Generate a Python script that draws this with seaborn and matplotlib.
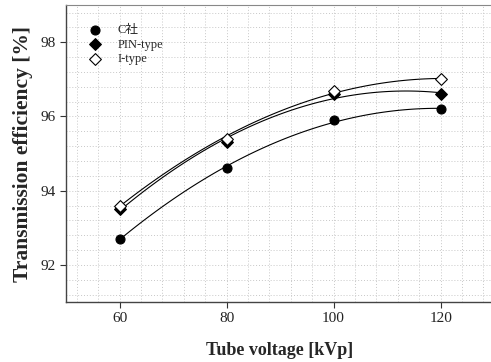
import numpy as np
import pandas as pd
import seaborn as sns
import matplotlib.pyplot as plt
from matplotlib.ticker import MultipleLocator

voltage = [60, 80, 100, 120]
c_sha = [92.7, 94.6, 95.9, 96.2]
pin_type = [93.5, 95.3, 96.6, 96.6]
i_type = [93.6, 95.4, 96.7, 97.0]
series_names = ["C社", "PIN-type", "I-type"]

df = pd.DataFrame({
    "voltage": voltage * 3,
    "eff": c_sha + pin_type + i_type,
    "type": [n for n in series_names for _ in voltage],
})

sns.set_style("white")
plt.rcParams["font.family"] = ["Liberation Serif", "Noto Sans CJK JP"]

fig = plt.figure(figsize=(4.91, 3.62), dpi=100)
ax = fig.add_axes([0.1344, 0.1657, 0.872, 0.820])

# quadratic fit lines
for name in series_names:
    sub = df[df["type"] == name]
    sns.regplot(data=sub, x="voltage", y="eff", order=2, ci=None, scatter=False,
                ax=ax, line_kws={"color": "black", "lw": 0.8})

markers = {"C社": "o", "PIN-type": "D", "I-type": "D"}
faces = {"C社": "black", "PIN-type": "black", "I-type": "white"}
sizes = {"C社": 42, "PIN-type": 36, "I-type": 36}
for name in series_names:
    sub = df[df["type"] == name]
    ax.scatter(sub["voltage"], sub["eff"], marker=markers[name], s=sizes[name],
               facecolor=faces[name], edgecolor="black", linewidth=0.8,
               zorder=5, label=name)

ax.set_xlim(50, 130)
ax.set_ylim(91, 99)
ax.xaxis.set_major_locator(MultipleLocator(20))
ax.yaxis.set_major_locator(MultipleLocator(2))
ax.xaxis.set_minor_locator(MultipleLocator(4))
ax.yaxis.set_minor_locator(MultipleLocator(0.4))
ax.grid(which="both", color="#c8c8c8", linestyle=(0, (1, 2)), linewidth=0.7)
ax.set_axisbelow(True)

for s in ["left", "bottom"]:
    ax.spines[s].set_color("#444444")
    ax.spines[s].set_linewidth(1.0)
ax.spines["top"].set_color("#888888")
ax.spines["right"].set_visible(False)
ax.tick_params(which="major", direction="out", length=4, width=0.8,
               colors="#333333", labelsize=11, labelcolor="#222222",
               left=True, bottom=True)
ax.tick_params(which="minor", length=0)

ax.set_xlabel("Tube voltage [kVp]", fontsize=13, fontweight="bold", labelpad=12)
ax.set_ylabel("Transmission efficiency [%]", fontsize=15.5, fontweight="bold", labelpad=5)

ax.legend(loc="upper left", frameon=False, fontsize=9, handletextpad=0.8,
          borderaxespad=0.5, labelspacing=0.22, bbox_to_anchor=(0.012, 0.975))

fig.savefig("out.png", dpi=100)
